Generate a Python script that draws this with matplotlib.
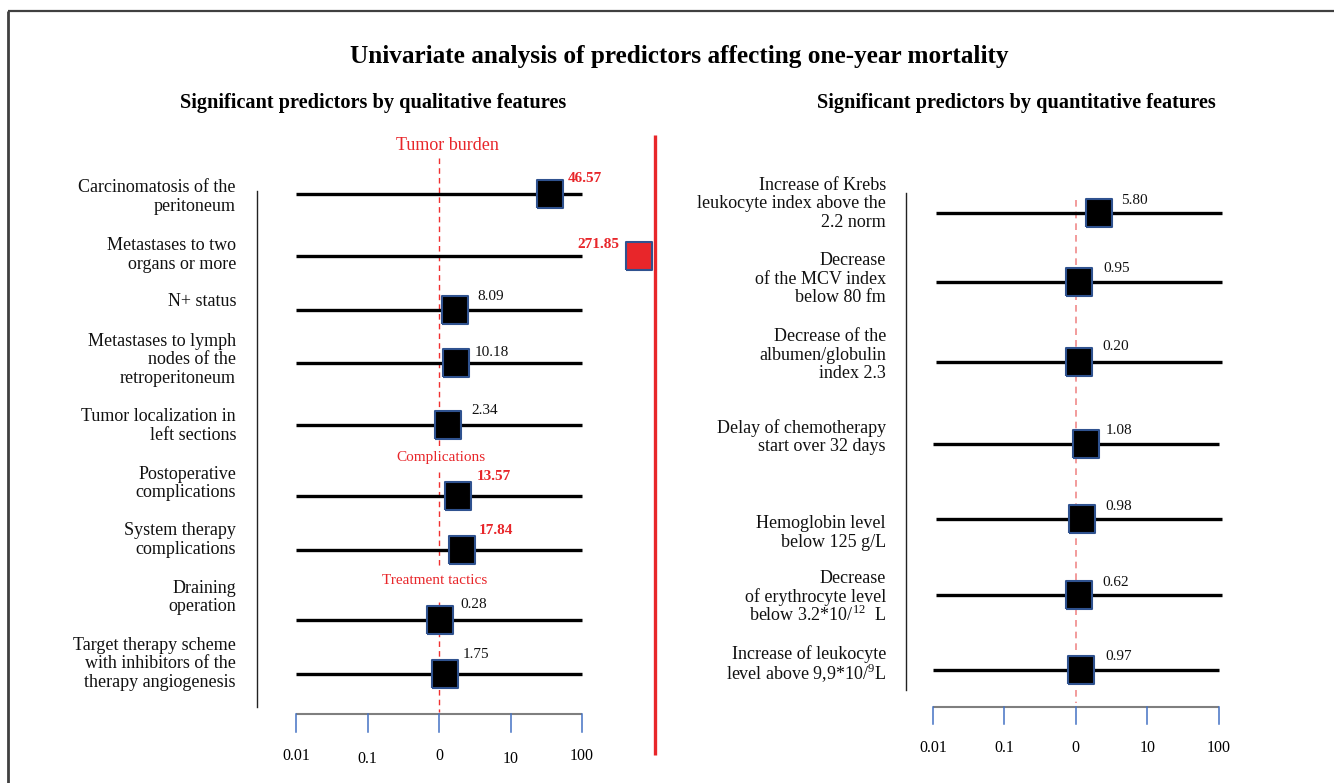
import numpy as np
import matplotlib
matplotlib.use("Agg")
import matplotlib.pyplot as plt

plt.rcParams['font.family'] = ['Liberation Serif', 'DejaVu Serif']
plt.rcParams['mathtext.fontset'] = 'custom'
plt.rcParams['mathtext.rm'] = 'Liberation Serif'

W, H = 1334, 783
RED = '#e8262a'
EDGE = '#2f528f'

# ---- data: qualitative features (left panel)
left_features = [
    "Carcinomatosis of the\nperitoneum",
    "Metastases to two\norgans or more",
    "N+ status",
    "Metastases to lymph\nnodes of the\nretroperitoneum",
    "Tumor localization in\nleft sections",
    "Postoperative\ncomplications",
    "System therapy\ncomplications",
    "Draining\noperation",
    "Target therapy scheme\nwith inhibitors of the\ntherapy angiogenesis",
]
left_or_text = ["46.57", "271.85", "8.09", "10.18", "2.34", "13.57", "17.84", "0.28", "1.75"]
left_highlight = [True, True, False, False, False, True, True, False, False]
# square positions as read on the chart's log axis
left_marker = [35.7, 627, 1.67, 1.73, 1.34, 1.84, 2.10, 1.02, 1.20]
left_ci_lo = [0.01] * 9
left_ci_hi = [100] * 9

# ---- data: quantitative features (right panel)
right_features = [
    "Increase of Krebs\nleukocyte index above the\n2.2 norm",
    "Decrease\nof the MCV index\nbelow 80 fm",
    "Decrease of the\nalbumen/globulin\nindex 2.3",
    "Delay of chemotherapy\nstart over 32 days",
    "Hemoglobin level\nbelow 125 g/L",
    "Decrease\nof erythrocyte level\nbelow 3.2*10/$^{12}$  L",
    "Increase of leukocyte\nlevel above 9,9*10/$^{9}$L",
]
right_or_text = ["5.80", "0.95", "0.20", "1.08", "0.98", "0.62", "0.97"]
right_marker = [2.09, 1.10, 1.12, 1.38, 1.22, 1.10, 1.17]
right_ci_lo = [0.0111, 0.0111, 0.0111, 0.01, 0.0111, 0.0111, 0.01]
right_ci_hi = [111, 111, 111, 100, 111, 111, 100]

tick_values = [0.01, 0.1, 1, 10, 100]
tick_labels = ["0.01", "0.1", "0", "10", "100"]

# ---- layout (pixel rows)
left_row_y = [194, 256, 310, 363, 425, 496, 550, 620, 674]
left_label_y = [197, 255, 302, 360, 426, 483.5, 540, 597.5, 664]
left_val_pos = [(568, 178), (577, 244), (477, 297), (475, 352), (471, 410),
                (477, 477), (479, 530), (460, 604), (463, 655)]
right_row_y = [213, 282, 362, 444, 519, 595, 670]
right_label_y = [204, 279, 355, 437, 533, 597, 663]
right_val_pos = [(1121, 200), (1103, 268), (1102, 347), (1106, 431),
                 (1105, 506), (1102, 582), (1105, 657)]

# slightly tall square marker, as in the source
box = [(-25, -27), (25, -27), (25, 27), (-25, 27), (-25, -27)]

fig = plt.figure(figsize=(W / 100, H / 100), dpi=100)
canvas = fig.add_axes([0, 0, 1, 1])
canvas.set_xlim(0, W)
canvas.set_ylim(H, 0)
canvas.axis('off')


def forest_axes(px_lo, ppd):
    ax = fig.add_axes([0, 0, 1, 1])
    ax.set_xscale('log')
    ax.set_xlim(10 ** (-2 - px_lo / ppd), 10 ** (-2 + (W - px_lo) / ppd))
    ax.set_ylim(H, 0)
    ax.axis('off')
    ax.patch.set_alpha(0)
    return ax


def multiline(x, yc, text, size=13, pitch=18.3, ha='right'):
    lines = text.split("\n")
    n = len(lines)
    for i, ln in enumerate(lines):
        y = yc + (i - (n - 1) / 2) * pitch
        canvas.text(x, y, ln, ha=ha, va='center', fontsize=size, color='#111111')


# border
canvas.plot([8, W], [11, 11], color='#404040', lw=1.6, solid_capstyle='butt')
canvas.plot([8, 8], [11, H], color='#404040', lw=2, solid_capstyle='butt')

# titles
canvas.text(679, 57, "Univariate analysis of predictors affecting one-year mortality",
            ha='center', va='center', fontsize=18.2, fontweight='bold')
canvas.text(373, 103, "Significant predictors by qualitative features",
            ha='center', va='center', fontsize=14.6, fontweight='bold')
canvas.text(1016, 103, "Significant predictors by quantitative features",
            ha='center', va='center', fontsize=14.6, fontweight='bold')

# red separator
canvas.plot([655, 655], [135, 755], color=RED, lw=2.4, solid_capstyle='butt')

# ---- left panel
axl = forest_axes(296, 71.5)
canvas.plot([257, 257], [191, 707], color='#222222', lw=1)
for seg in [(158, 448), (472, 566), (602, 712)]:
    axl.plot([1, 1], seg, color='#f03030', lw=1, dashes=(4, 3))
for i in range(len(left_features)):
    y = left_row_y[i]
    axl.plot([left_ci_lo[i], left_ci_hi[i]], [y, y], color='black', lw=2.4,
             solid_capstyle='butt', zorder=2)
    face = RED if left_marker[i] > left_ci_hi[i] else 'black'
    axl.plot(left_marker[i], y, marker=box, ms=19.5, mfc=face, mec=EDGE, mew=1.5,
             zorder=3, clip_on=False)
    multiline(236, left_label_y[i], left_features[i])
    vx, vy = left_val_pos[i]
    if left_highlight[i]:
        canvas.text(vx, vy, left_or_text[i], ha='left', va='center', fontsize=11,
                    fontweight='bold', color=RED)
    else:
        canvas.text(vx, vy, left_or_text[i], ha='left', va='center', fontsize=11,
                    color='#111111')

canvas.text(447, 145, "Tumor burden", ha='center', va='center', fontsize=13, color=RED)
canvas.text(441, 458, "Complications", ha='center', va='center', fontsize=11, color=RED)
canvas.text(435, 581, "Treatment tactics", ha='center', va='center', fontsize=11, color=RED)

axl.plot([tick_values[0], tick_values[-1]], [714, 714], color='#7f7f7f', lw=1.5,
         solid_capstyle='butt')
for k, (tv, tl) in enumerate(zip(tick_values, tick_labels)):
    axl.plot([tv, tv], [714, 732], color='#4472c4', lw=1.1)
    axl.text(tv, 756 + (3 if k % 2 else 0), tl, ha='center', va='center', fontsize=11.5)

# ---- right panel
axr = forest_axes(933, 71.4)
canvas.plot([906, 906], [193, 690], color='#222222', lw=1)
axr.plot([1, 1], [200, 703], color='#f08a8a', lw=1.2, dashes=(4, 3))
for i in range(len(right_features)):
    y = right_row_y[i]
    axr.plot([right_ci_lo[i], right_ci_hi[i]], [y, y], color='black', lw=2.4,
             solid_capstyle='butt', zorder=2)
    axr.plot(right_marker[i], y, marker=box, ms=19.5, mfc='black', mec=EDGE, mew=1.5,
             zorder=3)
    multiline(886, right_label_y[i], right_features[i])
    vx, vy = right_val_pos[i]
    canvas.text(vx, vy, right_or_text[i], ha='left', va='center', fontsize=11,
                color='#111111')

axr.plot([tick_values[0], tick_values[-1]], [707, 707], color='#7f7f7f', lw=1.5,
         solid_capstyle='butt')
for tv, tl in zip(tick_values, tick_labels):
    axr.plot([tv, tv], [707, 724], color='#4472c4', lw=1.1)
    axr.text(tv, 748, tl, ha='center', va='center', fontsize=11.5)

fig.savefig("out.png", dpi=100)
